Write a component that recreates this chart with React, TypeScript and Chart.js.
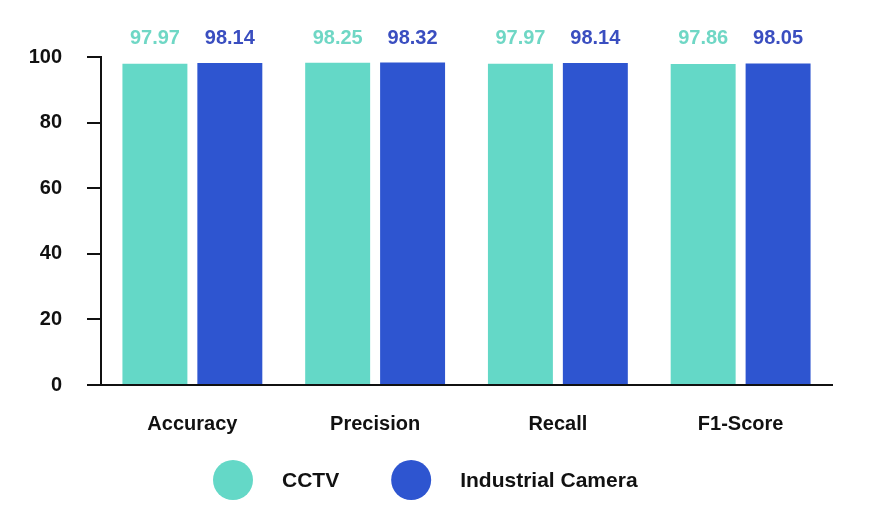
import React, { useEffect, useRef } from "react";
import { Chart, registerables } from "chart.js";

Chart.register(...registerables);

const categories = ["Accuracy", "Precision", "Recall", "F1-Score"];
const seriesNames = ["CCTV", "Industrial Camera"];
const cctvValues = [97.97, 98.25, 97.97, 97.86];
const industrialValues = [98.14, 98.32, 98.14, 98.05];
const yTicks = [0, 20, 40, 60, 80, 100];

const barColors = ["#64D8C7", "#2E55D0"];
const labelColors = ["#6FD7C5", "#3A4EC0"];
const FONT = "'Liberation Sans', Arial, sans-serif";

const valueLabels = {
  id: "valueLabels",
  afterDatasetsDraw(chart: any) {
    const ctx = chart.ctx;
    const yTop = chart.scales.y.getPixelForValue(100);
    ctx.save();
    ctx.font = `bold 20px ${FONT}`;
    ctx.textAlign = "center";
    ctx.textBaseline = "middle";
    chart.data.datasets.forEach((ds: any, di: number) => {
      const meta = chart.getDatasetMeta(di);
      meta.data.forEach((bar: any, i: number) => {
        ctx.fillStyle = labelColors[di];
        ctx.fillText(ds.data[i].toFixed(2), bar.x, yTop - 19);
      });
    });
    ctx.restore();
  },
};

const bigLegend = {
  id: "bigLegend",
  afterDraw(chart: any) {
    const ctx = chart.ctx;
    ctx.save();
    ctx.font = `bold 21px ${FONT}`;
    ctx.textBaseline = "middle";
    ctx.textAlign = "left";
    let x = 213;
    const y = 480;
    const r = 20;
    chart.data.datasets.forEach((ds: any) => {
      ctx.fillStyle = ds.backgroundColor;
      ctx.beginPath();
      ctx.arc(x + r, y, r, 0, Math.PI * 2);
      ctx.fill();
      x += 2 * r + 29;
      ctx.fillStyle = "#111";
      ctx.fillText(ds.label, x, y + 1);
      x += ctx.measureText(ds.label).width + 52;
    });
    ctx.restore();
  },
};

export default function App() {
  const ref = useRef<HTMLCanvasElement | null>(null);
  useEffect(() => {
    if (!ref.current) return;
    const chart = new Chart(ref.current, {
      type: "bar",
      data: {
        labels: categories,
        datasets: [
          { label: seriesNames[0], data: cctvValues, backgroundColor: barColors[0] },
          { label: seriesNames[1], data: industrialValues, backgroundColor: barColors[1] },
        ],
      },
      options: {
        responsive: false,
        animation: false,
        datasets: { bar: { categoryPercentage: 0.82, barPercentage: 0.867 } },
        layout: { padding: { top: 57, right: 55, bottom: 0, left: 0 } },
        plugins: { legend: { display: false }, tooltip: { enabled: false } },
        scales: {
          x: {
            grid: { display: false, drawTicks: false },
            border: { display: true, color: "#111", width: 2 },
            ticks: { color: "#111", font: { family: FONT, size: 20, weight: "bold" }, padding: 27 },
            afterFit: (s: any) => { s.height = 123; },
          },
          y: {
            min: 0,
            max: 100,
            afterBuildTicks: (s: any) => { s.ticks = yTicks.map((v) => ({ value: v })); },
            grid: { display: true, drawOnChartArea: false, drawTicks: true, tickLength: 14, color: "#111", lineWidth: 2 },
            border: { display: true, color: "#111", width: 2 },
            ticks: { color: "#111", font: { family: FONT, size: 20, weight: "bold" }, padding: 25 },
            afterFit: (s: any) => { s.width = 101; },
          },
        },
      },
      plugins: [valueLabels, bigLegend],
    });
    return () => chart.destroy();
  }, []);
  return (
    <div style={{ position: "absolute", left: 0, top: 0, width: 887, height: 508, background: "#fff" }}>
      <canvas ref={ref} width={887} height={508} />
    </div>
  );
}
